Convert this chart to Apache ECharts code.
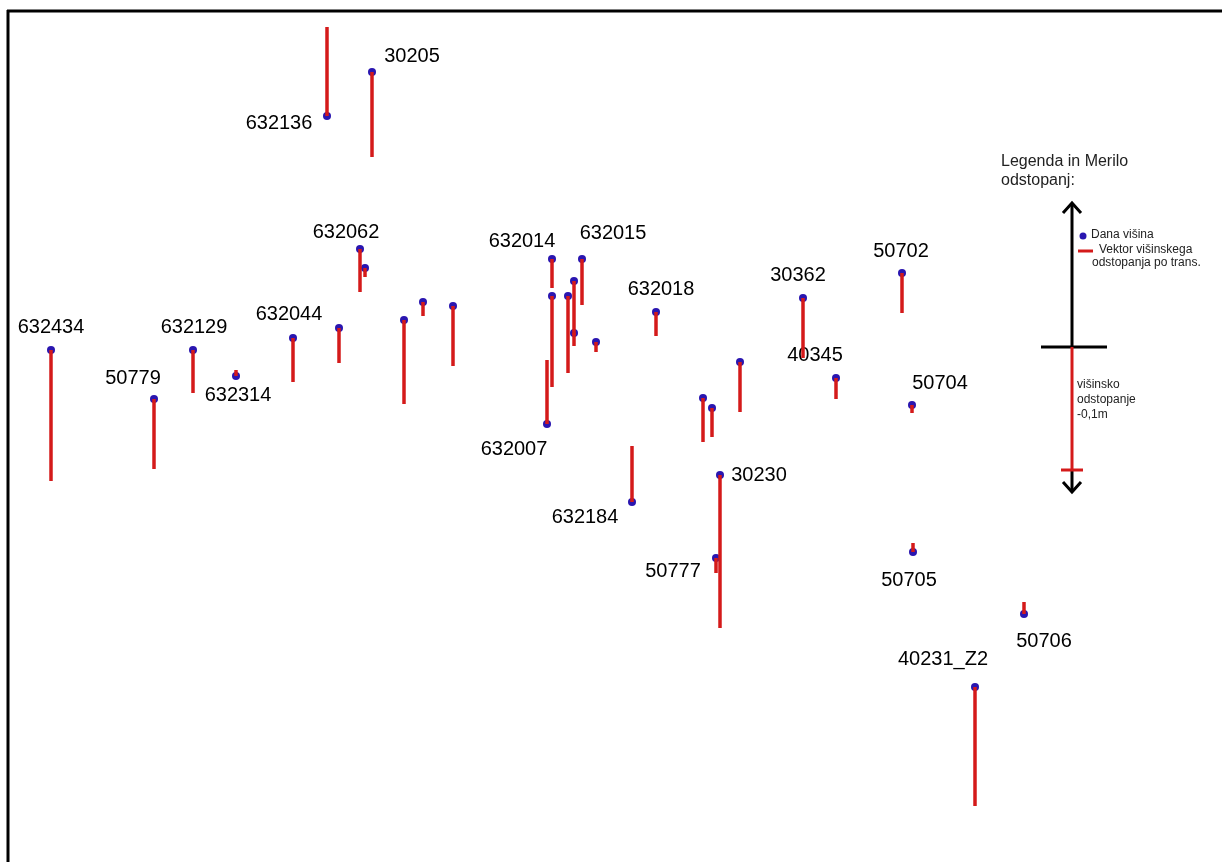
<!DOCTYPE html>
<html>
<head>
<meta charset="utf-8">
<title>Višinska odstopanja</title>
<script src="https://cdn.jsdelivr.net/npm/echarts@6/dist/echarts.min.js"></script>
<style>
    html, body { margin: 0; padding: 0; background: #fff; }
    #chart { width: 1222px; height: 862px; }
</style>
</head>
<body>
<div id="chart"></div>
<script>
// tocke: ime, polozaj (x, y v koordinatah slike) in konec vektorja odstopanja
const names = ['632434', '50779', '632129', '632314', '632044', '632136', '30205', '632062', '', '',
    '', '', '', '632014', '', '632007', '', '', '', '632015',
    '', '632018', '632184', '', '', '', '30230', '50777', '30362', '40345',
    '50702', '50704', '50705', '50706', '40231_Z2'];
const posX = [51, 154, 193, 236, 293, 327, 372, 360, 365, 339,
    404, 423, 453, 552, 552, 547, 568, 574, 574, 582,
    596, 656, 632, 740, 703, 712, 720, 716, 803, 836,
    902, 912, 913, 1024, 975];
const posY = [350, 399, 350, 376, 338, 116, 72, 249, 268, 328,
    320, 302, 306, 259, 296, 424, 296, 281, 333, 259,
    342, 312, 502, 362, 398, 408, 475, 558, 298, 378,
    273, 405, 552, 614, 687];
const tipY = [481, 469, 393, 370, 382, 27, 157, 292, 277, 363,
    404, 316, 366, 288, 387, 360, 373, 335, 346, 305,
    352, 336, 446, 412, 442, 437, 628, 573, 358, 399,
    313, 413, 543, 602, 806];

// odmik napisa od tocke
const labelDx = [0, -21, 1, 2, -4, -48, 40, -14, 0, 0,
    0, 0, 0, -30, 0, -33, 0, 0, 0, 31,
    0, 5, -47, 0, 0, 0, 39, -43, -5, -21,
    -1, 28, -4, 20, -32];
const labelDy = [-23, -21, -23, 19, -24, 7, -16, -17, 0, 0,
    0, 0, 0, -18, 0, 25, 0, 0, 0, -26,
    0, -23, 15, 0, 0, 0, 0, 13, -23, -23,
    -22, -22, 28, 27, -28];

let chart = echarts.init(document.getElementById('chart'));

let vectorData = posX.map((x, i) => [x, posY[i], tipY[i]]);
let pointData = posX.map((x, i) => ({
    name: names[i],
    value: [x, posY[i]],
    label: {
        show: names[i] !== '',
        offset: [labelDx[i], labelDy[i]],
    },
}));

const black = '#000';
const red = '#d41a1a';
const blue = '#2a16b0';
const textFont = 'Liberation Sans, Arial, sans-serif';

let option = {
    animation: false,
    backgroundColor: '#fff',
    grid: { left: 0, right: 0, top: 0, bottom: 0 },
    xAxis: { type: 'value', min: 0, max: 1222, show: false },
    yAxis: { type: 'value', min: 0, max: 862, inverse: true, show: false },
    series: [
        {
            type: 'scatter',
            symbol: 'circle',
            symbolSize: 8,
            itemStyle: { color: blue, opacity: 1 },
            data: pointData,
            label: {
                position: 'inside',
                formatter: '{b}',
                color: '#000',
                textBorderWidth: 0,
                fontSize: 20,
                fontFamily: textFont,
                align: 'center',
                verticalAlign: 'middle',
            },
            z: 2,
        },
        {
            type: 'custom',
            encode: { x: 0, y: [1, 2] },
            data: vectorData,
            renderItem: function(params, api) {
                let p0 = api.coord([api.value(0), api.value(1)]);
                let p1 = api.coord([api.value(0), api.value(2)]);
                return {
                    type: 'line',
                    shape: { x1: p0[0], y1: p0[1], x2: p1[0], y2: p1[1] },
                    style: { stroke: red, lineWidth: 3.5 },
                };
            },
            z: 3,
        },
    ],
    graphic: [
        // okvir
        { type: 'line', shape: { x1: 7, y1: 11, x2: 1222, y2: 11 }, style: { stroke: black, lineWidth: 3 } },
        { type: 'line', shape: { x1: 8, y1: 10, x2: 8, y2: 862 }, style: { stroke: black, lineWidth: 3 } },
        // legenda
        { type: 'text', left: 1001, top: 154, style: { text: 'Legenda in Merilo', fill: '#222', font: '16px ' + textFont } },
        { type: 'text', left: 1001, top: 173, style: { text: 'odstopanj:', fill: '#222', font: '16px ' + textFont } },
        { type: 'line', shape: { x1: 1072, y1: 203, x2: 1072, y2: 347 }, style: { stroke: black, lineWidth: 3 } },
        { type: 'polyline', shape: { points: [[1063, 213], [1072, 203], [1081, 213]] }, style: { stroke: black, lineWidth: 3, fill: null } },
        { type: 'line', shape: { x1: 1041, y1: 347, x2: 1107, y2: 347 }, style: { stroke: black, lineWidth: 3 } },
        { type: 'line', shape: { x1: 1072, y1: 470, x2: 1072, y2: 492 }, style: { stroke: black, lineWidth: 3 } },
        { type: 'polyline', shape: { points: [[1063, 482], [1072, 492], [1081, 482]] }, style: { stroke: black, lineWidth: 3, fill: null } },
        { type: 'line', shape: { x1: 1072, y1: 347, x2: 1072, y2: 470 }, style: { stroke: red, lineWidth: 3 } },
        { type: 'line', shape: { x1: 1061, y1: 470, x2: 1083, y2: 470 }, style: { stroke: red, lineWidth: 3 } },
        { type: 'circle', shape: { cx: 1083, cy: 236, r: 3.5 }, style: { fill: blue } },
        { type: 'text', left: 1091, top: 229, style: { text: 'Dana višina', fill: '#222', font: '12px ' + textFont } },
        { type: 'line', shape: { x1: 1078, y1: 251, x2: 1093, y2: 251 }, style: { stroke: red, lineWidth: 3 } },
        { type: 'text', left: 1099, top: 244, style: { text: 'Vektor višinskega', fill: '#222', font: '12px ' + textFont } },
        { type: 'text', left: 1092, top: 257, style: { text: 'odstopanja po trans.', fill: '#222', font: '12px ' + textFont } },
        { type: 'text', left: 1077, top: 379, style: { text: 'višinsko', fill: '#222', font: '12px ' + textFont } },
        { type: 'text', left: 1077, top: 394, style: { text: 'odstopanje', fill: '#222', font: '12px ' + textFont } },
        { type: 'text', left: 1077, top: 409, style: { text: '-0,1m', fill: '#222', font: '12px ' + textFont } },
    ],
};

chart.setOption(option);
</script>
</body>
</html>
